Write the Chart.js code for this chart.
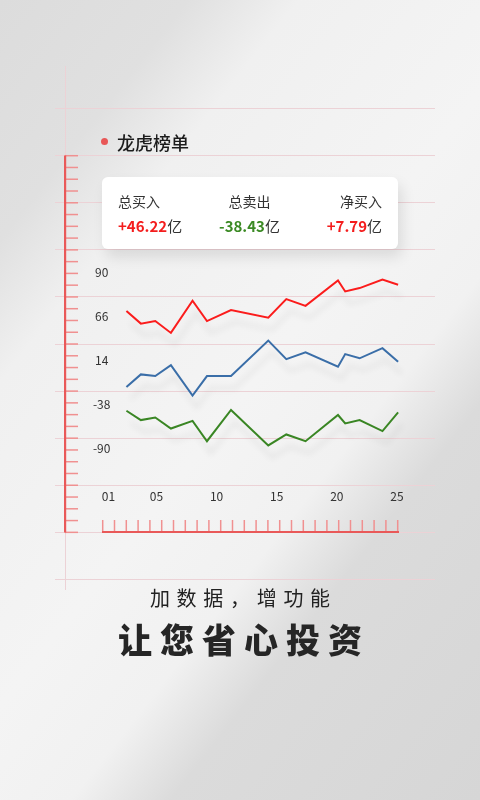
<!DOCTYPE html>
<html lang="zh">
<head>
<meta charset="utf-8">
<script src="https://cdn.jsdelivr.net/npm/chart.js@4.4.1/dist/chart.umd.min.js"></script>
<style>
  html, body { margin: 0; padding: 0; }
  body {
    width: 480px; height: 800px; overflow: hidden; position: relative;
    font-family: "Noto Sans CJK SC", "Noto Sans", sans-serif;
    background: linear-gradient(128deg, #dcdcdc 0%, #e0e0e0 17%, #f0f0f0 27%, #f4f4f4 50%, #f1f1f1 63%, #dbdbdb 72%, #d6d6d6 100%);
  }
  #chart { position: absolute; left: 0; top: 0; }
  .title { position: absolute; left: 117px; top: 132px; font-size: 18px; line-height: 20px; color: #1c1c1c; font-weight: 500; }
  .dot { position: absolute; left: 101px; top: 138px; width: 7px; height: 7px; border-radius: 50%; background: #e85757; }
  .card {
    position: absolute; left: 102px; top: 177px; width: 296px; height: 72px;
    background: #fff; border-radius: 6px;
    box-shadow: 4px 8px 14px rgba(0, 0, 0, 0.10);
  }
  .col { position: absolute; top: 0; }
  .lab { position: absolute; top: 16px; font-size: 14px; line-height: 16px; color: #333; white-space: nowrap; }
  .val { position: absolute; top: 40px; font-size: 15px; line-height: 18px; font-weight: 600; white-space: nowrap; }
  .val span { color: #333; font-weight: 400; }
  .up { color: #f41d1d; }
  .down { color: #3b8a24; }
  .c1 .lab, .c1 .val { left: 16px; }
  .c2 .lab, .c2 .val { left: 147.5px; transform: translateX(-50%); }
  .c3 .lab, .c3 .val { right: -280px; }
  .slogan1 { position: absolute; left: 0; width: 480px; top: 585px; text-align: center; font-size: 20px; line-height: 26px; letter-spacing: 6.7px; text-indent: 6.7px; color: #222; }
  .slogan2 { position: absolute; left: 0; width: 480px; top: 619px; text-align: center; font-size: 34px; line-height: 40px; letter-spacing: 8px; text-indent: 8px; color: #262626; font-weight: 900; }
</style>
</head>
<body>
<canvas id="chart" width="480" height="800"></canvas>
<span class="dot"></span>
<div class="title">龙虎榜单</div>
<div class="card">
  <div class="col c1"><div class="lab">总买入</div><div class="val up">+46.22<span>亿</span></div></div>
  <div class="col c2"><div class="lab">总卖出</div><div class="val down">-38.43<span>亿</span></div></div>
  <div class="col c3"><div class="lab">净买入</div><div class="val up">+7.79<span>亿</span></div></div>
</div>
<div class="slogan1">加数据，增功能</div>
<div class="slogan2">让您省心投资</div>

<script>
// 数据（日期为横坐标，单位与纵轴刻度相同）
const xDays = [2.5, 3.7, 4.9, 6.2, 8.0, 9.2, 11.2, 14.3, 15.8, 17.4, 20.1, 20.7, 21.9, 23.8, 25.1];
const buyValues = [72, 57, 60, 46, 84, 60, 73, 64, 86, 78, 108, 95, 99, 109, 103];
const netValues = [-18, -3, -5, 8, -28, -5, -5, 37, 15, 23, 6, 21, 16, 28, 12];
const sellValues = [-46, -57, -54, -67, -58, -82, -45, -87, -74, -82, -51, -61, -57, -70, -48];

const xTickValues = [1, 5, 10, 15, 20, 25];
const yTickValues = [-90, -38, 14, 66, 118];
const yTickLabels = ["-90", "-38", "14", "66", "90"];

const toPoints = (values) => values.map((v, i) => ({ x: xDays[i], y: v }));

// 背景的格子线和刻度尺
const notebook = {
    id: "notebook",
    beforeDraw(chart) {
        const c = chart.ctx;
        c.save();
        c.strokeStyle = "#ecd2d6";
        c.lineWidth = 1;
        for (let i = 0; i < 11; i++) {
            const y = Math.round(108 + i * 47.1) + 0.5;
            c.beginPath();
            c.moveTo(55, y);
            c.lineTo(435, y);
            c.stroke();
        }
        c.beginPath();
        c.moveTo(65.5, 66);
        c.lineTo(65.5, 590);
        c.stroke();

        c.strokeStyle = "#f09090";
        c.lineWidth = 1.5;
        for (let i = 0; i <= 32; i++) {
            const y = 155.7 + i * 11.77;
            c.beginPath();
            c.moveTo(65, y);
            c.lineTo(78, y);
            c.stroke();
        }
        for (let i = 0; i < 26; i++) {
            const x = 102.7 + i * 11.8;
            c.beginPath();
            c.moveTo(x, 520);
            c.lineTo(x, 532);
            c.stroke();
        }
        c.fillStyle = "#e95959";
        c.fillRect(64, 155.5, 2.2, 377);
        c.fillRect(102, 531, 297, 2);
        c.restore();
    },
};

// 折线下方的阴影
const lineShadow = {
    id: "lineShadow",
    beforeDatasetsDraw(chart) {
        const c = chart.ctx;
        c.save();
        c.shadowColor = "rgba(0,0,0,0.10)";
        c.shadowBlur = 6;
        c.shadowOffsetX = 4;
        c.shadowOffsetY = 12;
    },
    afterDatasetsDraw(chart) {
        chart.ctx.restore();
    },
};

const tickFont = { family: "'Noto Sans CJK SC', 'Noto Sans', sans-serif", size: 12 };

new Chart(document.getElementById("chart"), {
    type: "line",
    data: {
        datasets: [
            { label: "总买入", data: toPoints(buyValues), borderColor: "#fb1c1c" },
            { label: "净买入", data: toPoints(netValues), borderColor: "#3a6ea8" },
            { label: "总卖出", data: toPoints(sellValues), borderColor: "#3a8624" },
        ],
    },
    options: {
        responsive: false,
        animation: false,
        devicePixelRatio: 1,
        layout: { padding: { left: 88.4, right: 79.5, top: 272, bottom: 292 } },
        elements: {
            line: { borderWidth: 2, tension: 0 },
            point: { radius: 0 },
        },
        datasets: { line: { clip: false } },
        scales: {
            x: {
                type: "linear",
                min: 1,
                max: 25.3,
                grid: { display: false, drawTicks: false },
                border: { display: false },
                afterBuildTicks: (scale) => {
                    scale.ticks = xTickValues.map((v) => ({ value: v }));
                },
                afterFit: (scale) => {
                    scale.height = 60;
                },
                ticks: {
                    padding: 41,
                    color: "#333",
                    font: tickFont,
                    maxRotation: 0,
                    autoSkip: false,
                    callback: (v) => String(v).padStart(2, "0"),
                },
            },
            y: {
                type: "linear",
                min: -90,
                max: 118,
                grid: { display: false, drawTicks: false },
                border: { display: false },
                afterBuildTicks: (scale) => {
                    scale.ticks = yTickValues.map((v) => ({ value: v }));
                },
                afterFit: (scale) => {
                    scale.width = 20;
                },
                ticks: {
                    mirror: true, // 标签居中放在图区左边
                    padding: -15.5,
                    crossAlign: "center",
                    color: "#333",
                    font: tickFont,
                    callback: (v, i) => yTickLabels[i],
                },
            },
        },
        plugins: {
            legend: { display: false },
            tooltip: { enabled: false },
        },
    },
    plugins: [notebook, lineShadow],
});
</script>
</body>
</html>
